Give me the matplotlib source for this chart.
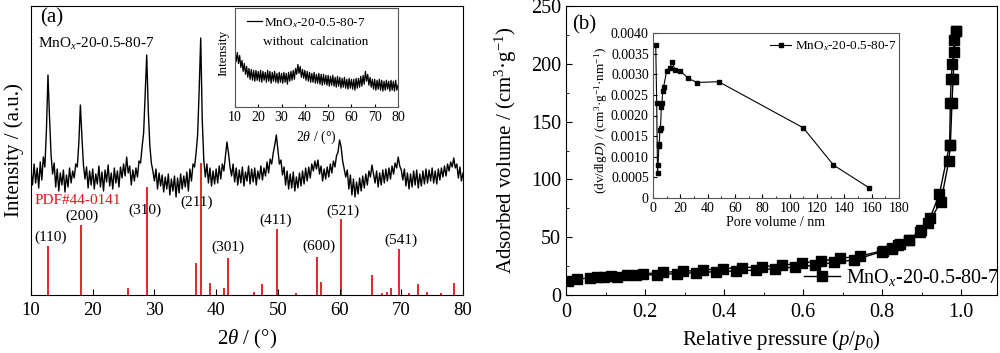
import numpy as np
import matplotlib
matplotlib.use("Agg")
import matplotlib.pyplot as plt
from matplotlib.ticker import MultipleLocator, FuncFormatter

plt.rcParams['font.family'] = ['Liberation Serif', 'DejaVu Serif']
plt.rcParams['mathtext.fontset'] = 'custom'
plt.rcParams['mathtext.rm'] = 'Liberation Serif'
plt.rcParams['mathtext.it'] = 'Liberation Serif:italic'

# ---- (a) XRD, calcined sample, 2theta step 0.25 deg from 10 to 80 ----
xrd_int = [
    124, 110, 131, 112, 127, 107, 133, 115, 138, 128, 165, 220, 178, 140, 121, 132, 108, 126, 104, 122,
    110, 125, 103, 120, 108, 127, 112, 124, 117, 131, 128, 152, 190, 158, 130, 116, 128, 107, 124, 110,
    126, 106, 121, 111, 129, 108, 123, 104, 125, 113, 130, 109, 122, 106, 127, 112, 124, 108, 128, 117,
    131, 119, 138, 122, 129, 110, 125, 114, 127, 118, 134, 132, 148, 162, 200, 240, 185, 150, 132, 124,
    114, 126, 106, 122, 109, 120, 103, 118, 106, 121, 100, 116, 104, 119, 98, 117, 102, 121, 106, 119,
    108, 123, 104, 126, 114, 131, 128, 142, 160, 205, 257, 175, 135, 118, 131, 112, 127, 109, 124, 111,
    126, 112, 129, 116, 131, 124, 138, 153, 142, 128, 119, 131, 113, 127, 110, 125, 112, 128, 109, 123,
    114, 129, 111, 126, 113, 127, 110, 124, 116, 129, 115, 127, 119, 133, 122, 136, 131, 142, 150, 160,
    146, 131, 135, 120, 128, 110, 124, 106, 121, 107, 123, 104, 118, 107, 122, 109, 124, 111, 127, 114,
    128, 117, 131, 124, 134, 126, 135, 121, 129, 114, 126, 116, 128, 118, 131, 122, 134, 128, 139, 143,
    155, 148, 134, 126, 118, 125, 106, 120, 100, 116, 98, 113, 101, 117, 104, 119, 107, 121, 110, 124,
    118, 130, 121, 112, 124, 108, 122, 110, 125, 112, 126, 114, 127, 116, 129, 121, 132, 127, 138, 129,
    125, 115, 126, 109, 122, 106, 121, 108, 124, 110, 125, 107, 121, 109, 124, 111, 126, 112, 125, 114,
    127, 112, 124, 111, 126, 115, 127, 118, 129, 119, 131, 124, 133, 128, 137, 127, 131, 117, 128, 114,
    122,
]
xrd_tth = np.arange(10, 80.001, 0.25)

# PDF#44-0141 stick pattern
pdf_pos = [12.8, 18.1, 25.7, 28.8, 36.7, 37.5, 39.0, 41.2, 42.0, 46.1, 47.4, 49.9, 52.9,
           56.4, 57.0, 60.3, 65.2, 66.8, 67.7, 68.3, 69.7, 71.3, 72.7, 74.2, 76.5, 78.6]
pdf_h = [49, 70, 7, 108, 32, 132, 12, 7, 37, 3, 11, 66, 2,
         38, 13, 76, 20, 2, 3, 7, 46, 2, 11, 3, 2, 12]
hkl_text = ['(110)', '(200)', '(310)', '(211)', '(301)', '(411)', '(600)', '(521)', '(541)']
hkl_x = [13.1, 18.3, 28.5, 36.9, 41.9, 49.7, 56.7, 60.6, 70.0]
hkl_y = [58, 79, 85, 93, 48, 75, 49, 84, 55]

# inset (a): uncalcined sample, step 0.5 deg
raw_int = [
    57, 46, 55, 44, 52, 40, 47, 36, 44, 33,
    41, 30, 39, 28, 38, 27, 37, 26, 37, 27,
    36, 26, 37, 25, 36, 27, 35, 25, 37, 26,
    36, 24, 35, 26, 36, 25, 34, 24, 35, 25,
    34, 24, 35, 25, 34, 23, 35, 26, 36, 27,
    37, 28, 39, 33, 43, 34, 41, 30, 38, 29,
    37, 27, 36, 26, 35, 25, 34, 25, 35, 24,
    33, 24, 34, 23, 33, 22, 33, 23, 32, 22,
    32, 21, 31, 22, 32, 21, 30, 20, 31, 21,
    30, 19, 29, 20, 30, 19, 28, 18, 29, 19,
    28, 18, 28, 17, 29, 19, 29, 20, 31, 21,
    32, 23, 36, 26, 33, 22, 30, 20, 28, 18,
    28, 17, 27, 18, 28, 17, 27, 16, 26, 17,
    27, 18, 26, 16, 27, 17, 26, 16, 27, 17,
    22,
]
raw_tth = np.arange(10, 80.001, 0.5)

# ---- (b) N2 isotherm ----
ads_p = [0.004, 0.028, 0.062, 0.095, 0.13, 0.177, 0.23, 0.28, 0.329, 0.38, 0.43, 0.481,
         0.529, 0.58, 0.63, 0.678, 0.729, 0.80, 0.825, 0.846, 0.867, 0.896, 0.917, 0.949,
         0.969, 0.973, 0.977, 0.980, 0.983, 0.987]
ads_v = [12.1, 13.6, 15.0, 15.9, 15.8, 17.0, 17.6, 18.5, 19.3, 20.2, 20.8, 21.6,
         22.8, 24.2, 25.7, 28.3, 30.3, 37.5, 39.8, 43.8, 47.6, 54.8, 62.0, 80.7,
         116, 130, 166, 187, 210, 228]
des_p = [0.987, 0.983, 0.978, 0.975, 0.973, 0.971, 0.945, 0.921, 0.899, 0.869, 0.841, 0.825,
         0.802, 0.744, 0.694, 0.645, 0.597, 0.546, 0.495, 0.445, 0.397, 0.346, 0.295, 0.245,
         0.196, 0.154, 0.114, 0.078]
des_v = [228, 221, 200, 187, 166, 130, 87, 66.3, 56, 48, 43, 40.4,
         38.3, 33.7, 31.7, 29.4, 27.7, 25.7, 24.5, 23.6, 22.8, 21.6, 20.5, 19.6,
         18.2, 17.3, 16.7, 15.6]

# inset (b): pore size distribution
psd_d = [2.0, 2.7, 3.3, 3.7, 4.3, 4.6, 5.0, 5.5, 6.1, 6.6, 7.1, 7.8, 10.0, 12.2, 14.1,
         16.1, 20.0, 25.8, 32.2, 48.0, 110.0, 132.0, 158.0]
psd_v = [0.0037, 0.0023, 0.0006, 0.0008, 0.00126, 0.0013, 0.00164, 0.0017, 0.0022, 0.0023,
         0.0026, 0.0027, 0.00308, 0.00316, 0.0033, 0.0031, 0.00308, 0.0029, 0.0028, 0.00282,
         0.0017, 0.0008, 0.00025]

RED = '#e3141b'
W, H = 1000, 353
fig = plt.figure(figsize=(10, 3.53), dpi=100)


def px_axes(l, t, r, b):
    return fig.add_axes([l / W, 1 - b / H, (r - l) / W, (b - t) / H])


# ---------- panel (a) ----------
ax = px_axes(31, 6, 463, 295)
ax.vlines(pdf_pos, 0, pdf_h, colors=RED, lw=1.3, zorder=1)
ax.plot(xrd_tth, xrd_int, color='black', lw=1.0, zorder=2)
for t, x, y in zip(hkl_text, hkl_x, hkl_y):
    ax.text(x, y, t, ha='center', va='center', fontsize=11)
ax.text(10.6, 94, 'PDF#44-0141', color=RED, ha='left', va='center', fontsize=11)
ax.text(11.1, 251, r'MnO$_x$-20-0.5-80-7', ha='left', va='center', fontsize=11)
ax.text(13.4, 277, '(a)', ha='center', va='center', fontsize=15)
ax.set_xlim(10, 80)
ax.set_ylim(0, 289)
ax.set_yticks([])
ax.xaxis.set_major_locator(MultipleLocator(10))
ax.tick_params(axis='x', direction='in', length=4, labelsize=13.5, pad=5)
ax.set_xlabel(r'2$\theta$ / (°)', fontsize=15)
ax.xaxis.set_label_coords(0.5, -0.115)
ax.set_ylabel('Intensity / (a.u.)', fontsize=15)
ax.yaxis.set_label_coords(-0.016, 0.5)

axi = px_axes(235, 8, 398, 107)
axi.plot(raw_tth, raw_int, color='black', lw=0.9, label=r'MnO$_x$-20-0.5-80-7')
axi.set_xlim(10, 80)
axi.set_ylim(0, 100)
axi.set_yticks([])
axi.xaxis.set_major_locator(MultipleLocator(10))
axi.tick_params(axis='x', direction='in', length=2.5, labelsize=10, pad=3)
for s in axi.spines.values():
    s.set_color('#555555')
    s.set_linewidth(0.8)
axi.set_xlabel(r'2$\theta$ / (°)', fontsize=10)
axi.xaxis.set_label_coords(0.5, -0.22)
axi.set_ylabel('Intensity', fontsize=9.5)
axi.yaxis.set_label_coords(-0.035, 0.55)
axi.legend(loc='upper left', bbox_to_anchor=(0.074, 0.92), frameon=False, fontsize=9.5,
           handlelength=1.1, handletextpad=0.2, borderpad=0, borderaxespad=0)
axi.text(0.172, 0.66, 'without  calcination', transform=axi.transAxes,
         ha='left', va='center', fontsize=9.5)

# ---------- panel (b) ----------
bx = px_axes(566, 6, 997, 295)
bx.plot(ads_p, ads_v, color='black', lw=1.0, marker='s', ms=6.5, label=r'MnO$_x$-20-0.5-80-7')
bx.plot(des_p, des_v, color='black', lw=1.0, marker='s', ms=6.5)
bx.set_xlim(0, 1.091)
bx.set_ylim(0, 250)
bx.xaxis.set_major_locator(MultipleLocator(0.2))
bx.xaxis.set_minor_locator(MultipleLocator(0.1))
bx.yaxis.set_major_locator(MultipleLocator(50))
bx.yaxis.set_minor_locator(MultipleLocator(25))
bx.xaxis.set_major_formatter(FuncFormatter(lambda v, _: '0' if abs(v) < 1e-9 else f'{v:.1f}'))
bx.tick_params(which='both', direction='in', labelsize=14.5)
bx.tick_params(which='major', length=4)
bx.tick_params(which='minor', length=2.5)
bx.tick_params(axis='x', pad=6)
bx.set_xlabel(r'Relative pressure ($p$/$p_0$)', fontsize=15)
bx.xaxis.set_label_coords(0.5, -0.115)
bx.set_ylabel(r'Adsorbed volume / (cm$^3$·g$^{-1}$)', fontsize=15)
bx.yaxis.set_label_coords(-0.108, 0.5)
bx.text(0.042, 0.935, '(b)', transform=bx.transAxes, ha='center', va='center', fontsize=15)
bx.legend(loc='center right', bbox_to_anchor=(1.005, 0.062), frameon=False, fontsize=14.5,
          handlelength=1.8, handletextpad=0.3, borderpad=0, borderaxespad=0)

bi = px_axes(653, 33, 899, 198)
bi.plot(psd_d, psd_v, color='black', lw=0.8, marker='s', ms=3.5, label=r'MnO$_x$-20-0.5-80-7')
bi.set_xlim(0, 180)
bi.set_ylim(0, 0.004)
bi.xaxis.set_major_locator(MultipleLocator(20))
bi.xaxis.set_minor_locator(MultipleLocator(10))
bi.yaxis.set_major_locator(MultipleLocator(0.0005))
bi.yaxis.set_major_formatter(FuncFormatter(lambda v, _: '0' if abs(v) < 1e-12 else f'{v:.4f}'))
bi.tick_params(which='both', direction='in', labelsize=10, pad=3)
bi.tick_params(which='major', length=3)
bi.tick_params(which='minor', length=1.5)
for s in bi.spines.values():
    s.set_color('#555555')
    s.set_linewidth(0.8)
bi.set_xlabel('Pore volume / nm', fontsize=10)
bi.xaxis.set_label_coords(0.5, -0.11)
bi.set_ylabel(r'(dv/dlg$D$) / (cm$^3$·g$^{-1}$·nm$^{-1}$)', fontsize=9.5)
bi.yaxis.set_label_coords(-0.175, 0.47)
bi.legend(loc='upper right', bbox_to_anchor=(0.99, 0.96), frameon=False, fontsize=9.5,
          handlelength=1.6, handletextpad=0.3, borderpad=0, borderaxespad=0)

fig.savefig('out.png', dpi=100)
